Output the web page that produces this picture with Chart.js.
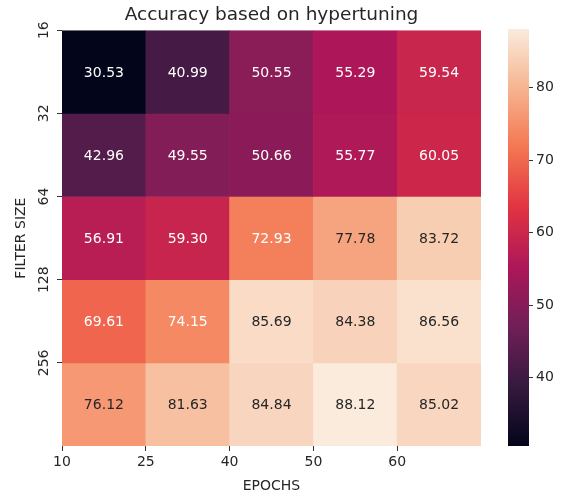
<!DOCTYPE html>
<html>
<head>
<meta charset="utf-8">
<script src="https://cdn.jsdelivr.net/npm/chart.js@4"></script>
<style>
  body { margin: 0; background: #fff; }
  #wrap { position: relative; width: 570px; height: 497px; }
  #heat { position: absolute; left: 0; top: 0; }
  #cbar { position: absolute; left: 490px; top: 0; }
</style>
</head>
<body>
<div id="wrap">
  <canvas id="heat" width="500" height="497"></canvas>
  <canvas id="cbar" width="80" height="497"></canvas>
</div>
<script>
const epochs = ["10", "25", "40", "50", "60"];
const filterSizes = ["16", "32", "64", "128", "256"];
const acc16 = [30.53, 40.99, 50.55, 55.29, 59.54];
const acc32 = [42.96, 49.55, 50.66, 55.77, 60.05];
const acc64 = [56.91, 59.30, 72.93, 77.78, 83.72];
const acc128 = [69.61, 74.15, 85.69, 84.38, 86.56];
const acc256 = [76.12, 81.63, 84.84, 88.12, 85.02];
const colorbarTicks = [40, 50, 60, 70, 80];

const rows = [acc16, acc32, acc64, acc128, acc256];
const allValues = rows.flat();
const vmin = Math.min(...allValues);
const vmax = Math.max(...allValues);

// seaborn "rocket" colormap, sampled
const rocketStops = [
  [0.000, [3, 5, 26]],
  [0.143, [53, 25, 62]],
  [0.286, [112, 31, 87]],
  [0.429, [173, 23, 89]],
  [0.571, [225, 51, 66]],
  [0.714, [243, 118, 81]],
  [0.857, [246, 180, 143]],
  [1.000, [250, 235, 221]],
];

function rocketRGB(t) {
  t = Math.max(0, Math.min(1, t));
  for (let i = 1; i < rocketStops.length; i++) {
    const [t1, c1] = rocketStops[i];
    const [t0, c0] = rocketStops[i - 1];
    if (t <= t1) {
      const f = (t - t0) / (t1 - t0);
      return c0.map((c, k) => Math.round(c + (c1[k] - c) * f));
    }
  }
  return rocketStops[rocketStops.length - 1][1];
}

function rocket(t) {
  const c = rocketRGB(t);
  return `rgb(${c[0]},${c[1]},${c[2]})`;
}

function norm(v) {
  return (v - vmin) / (vmax - vmin);
}

function luminance(rgb) {
  const l = rgb.map((c) => {
    c = c / 255;
    return c <= 0.03928 ? c / 12.92 : Math.pow((c + 0.055) / 1.055, 2.4);
  });
  return 0.2126 * l[0] + 0.7152 * l[1] + 0.0722 * l[2];
}

Chart.defaults.font.family = "'DejaVu Sans', sans-serif";
Chart.defaults.color = "#262626";

const cellLabels = {
  id: "cellLabels",
  afterDatasetsDraw(chart) {
    const ctx = chart.ctx;
    ctx.save();
    ctx.font = "14px 'DejaVu Sans'";
    ctx.textAlign = "center";
    ctx.textBaseline = "middle";
    chart.data.datasets.forEach((ds, i) => {
      chart.getDatasetMeta(i).data.forEach((bar, j) => {
        const v = ds.data[j].v;
        ctx.fillStyle = luminance(rocketRGB(norm(v))) > 0.408 ? "#262626" : "#ffffff";
        ctx.fillText(v.toFixed(2), bar.x, (bar.y + bar.base) / 2 + 1);
      });
    });
    ctx.restore();
  },
};

const edgeTicks = (scale) => {
  scale.ticks = [0, 1, 2, 3, 4].map((v) => ({ value: v }));
};

new Chart(document.getElementById("heat"), {
  type: "bar",
  data: {
    datasets: rows.map((vals, i) => ({
      label: filterSizes[i],
      data: vals.map((v, j) => ({ x: j + 0.5, y: [i, i + 1], v: v })),
      backgroundColor: (ctx) => rocket(norm(ctx.raw.v)),
      borderWidth: 0,
      grouped: false,
      barPercentage: 1,
      categoryPercentage: 1,
    })),
  },
  options: {
    responsive: false,
    animation: false,
    layout: { padding: { left: 0, right: 19, top: 0, bottom: 0 } },
    plugins: {
      legend: { display: false },
      tooltip: { enabled: false },
      title: {
        display: true,
        text: "Accuracy based on hypertuning",
        fullSize: false,
        color: "#262626",
        font: { size: 18.5, weight: "normal" },
        padding: { top: 4, bottom: 4 },
      },
    },
    scales: {
      x: {
        type: "linear",
        min: 0,
        max: 5,
        offset: false,
        afterBuildTicks: edgeTicks,
        afterFit: (scale) => { scale.height = 51; },
        grid: { offset: false, drawOnChartArea: false, drawTicks: true, tickLength: 5, color: "#333" },
        border: { display: false },
        ticks: {
          callback: (v) => epochs[v],
          font: { size: 14 },
          padding: 3,
          maxRotation: 0,
        },
        title: {
          display: true,
          text: "EPOCHS",
          font: { size: 14 },
          padding: { top: 0, bottom: 2 },
        },
      },
      y: {
        type: "linear",
        min: 0,
        max: 5,
        reverse: true,
        afterBuildTicks: edgeTicks,
        afterFit: (scale) => { scale.width = 62; },
        grid: { drawOnChartArea: false, drawTicks: true, tickLength: 5, color: "#333" },
        border: { display: false },
        ticks: {
          callback: (v) => filterSizes[v],
          font: { size: 14 },
          padding: -1,
          minRotation: 90,
          maxRotation: 90,
          crossAlign: "center",
        },
        title: {
          display: true,
          text: "FILTER SIZE",
          font: { size: 14 },
          padding: { top: 13, bottom: 0 },
        },
      },
    },
  },
  plugins: [cellLabels],
});

new Chart(document.getElementById("cbar"), {
  type: "bar",
  data: {
    labels: ["accuracy"],
    datasets: [{
      data: [[vmin, vmax]],
      borderWidth: 0,
      barPercentage: 1,
      categoryPercentage: 1,
      backgroundColor: (ctx) => {
        const area = ctx.chart.chartArea;
        if (!area) return "#000";
        const g = ctx.chart.ctx.createLinearGradient(0, area.bottom, 0, area.top);
        rocketStops.forEach(([t, c]) => g.addColorStop(t, `rgb(${c[0]},${c[1]},${c[2]})`));
        return g;
      },
    }],
  },
  options: {
    responsive: false,
    animation: false,
    layout: { padding: { left: 18, right: 0, top: 29, bottom: 51 } },
    plugins: { legend: { display: false }, tooltip: { enabled: false } },
    scales: {
      x: { display: false },
      y: {
        position: "right",
        min: vmin,
        max: vmax,
        afterBuildTicks: (scale) => { scale.ticks = colorbarTicks.map((v) => ({ value: v })); },
        afterFit: (scale) => { scale.width = 41; },
        grid: { drawOnChartArea: false, drawTicks: true, tickLength: 4, color: "#333" },
        border: { display: false },
        ticks: { font: { size: 14 }, padding: 3 },
      },
    },
  },
});
</script>
</body>
</html>
